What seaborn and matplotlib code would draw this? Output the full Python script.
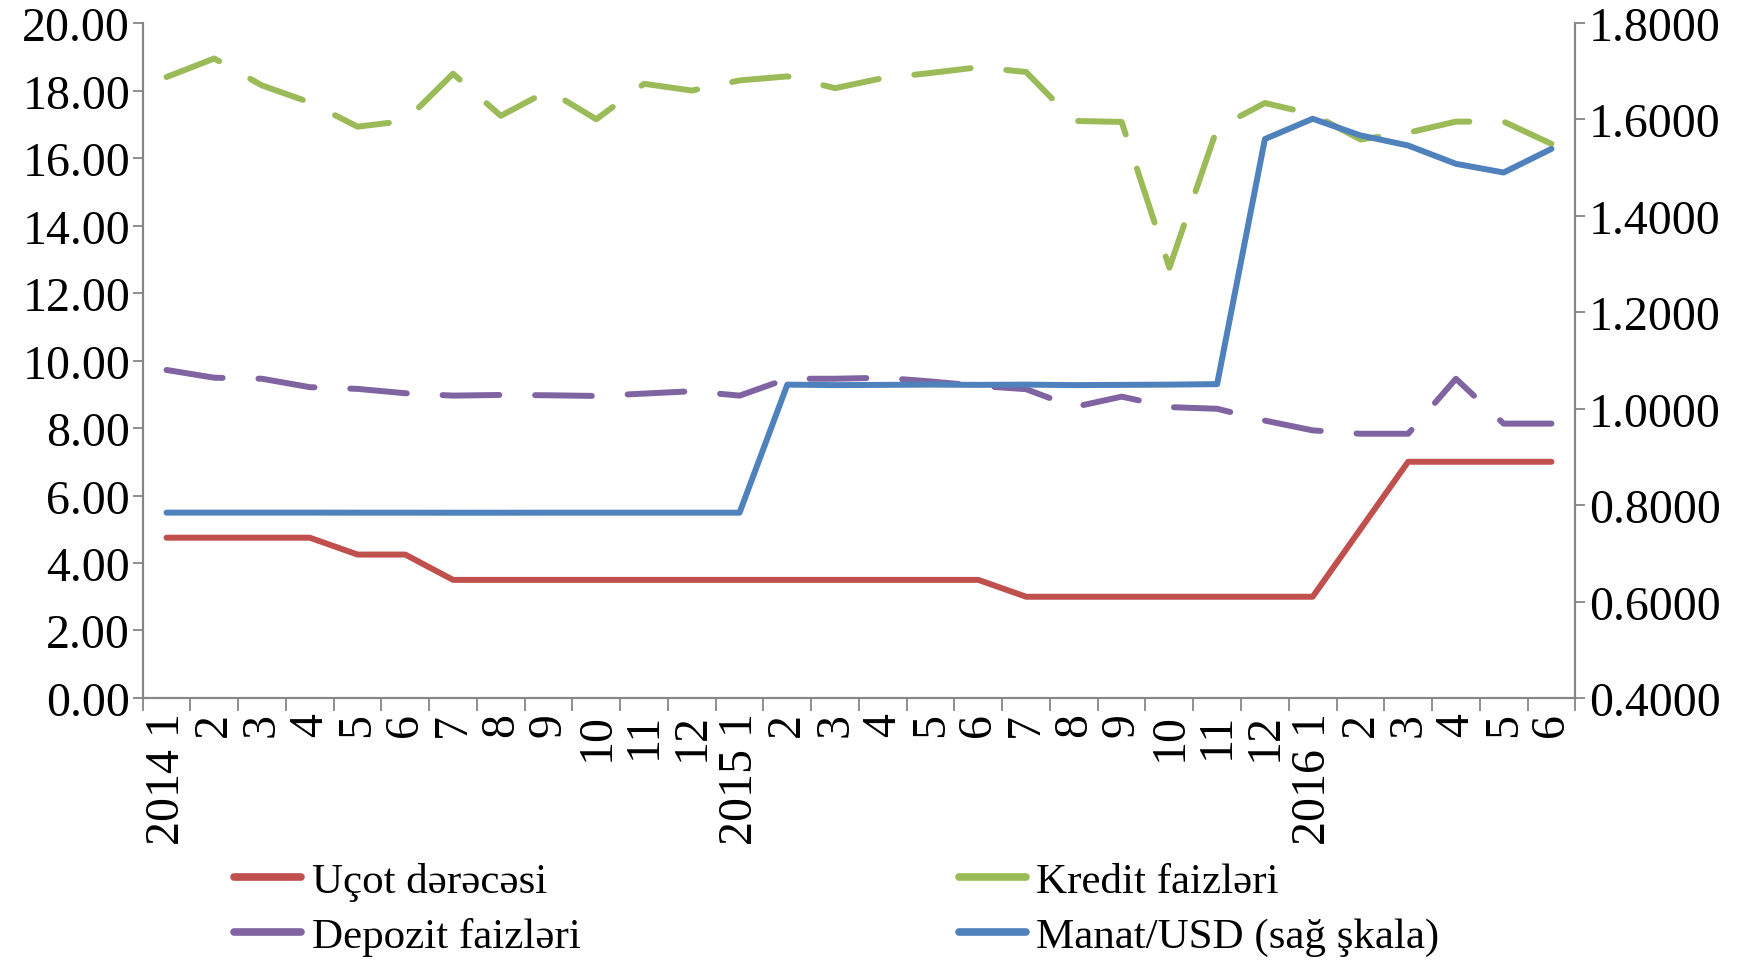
import numpy as np
import pandas as pd
import seaborn as sns
import matplotlib.pyplot as plt
from matplotlib.lines import Line2D

# months 2014 1 ... 2016 6
months = ["2014 1", "2", "3", "4", "5", "6", "7", "8", "9", "10", "11", "12",
          "2015 1", "2", "3", "4", "5", "6", "7", "8", "9", "10", "11", "12",
          "2016 1", "2", "3", "4", "5", "6"]

ucot = [4.75, 4.75, 4.75, 4.75, 4.25, 4.25, 3.50, 3.50, 3.50, 3.50, 3.50, 3.50,
        3.50, 3.50, 3.50, 3.50, 3.50, 3.50, 3.00, 3.00, 3.00, 3.00, 3.00, 3.00,
        3.00, 5.00, 7.00, 7.00, 7.00, 7.00]

kredit = [18.40, 18.95, 18.15, 17.65, 16.93, 17.10, 18.50, 17.25, 18.00, 17.15, 18.20, 18.00,
          18.30, 18.42, 18.07, 18.37, 18.52, 18.69, 18.55, 17.10, 17.07, 12.75, 16.88, 17.63,
          17.30, 16.55, 16.75, 17.08, 17.08, 16.42]

depozit = [9.72, 9.49, 9.46, 9.21, 9.16, 9.03, 8.96, 8.98, 8.97, 8.95, 9.02, 9.09,
           8.96, 9.46, 9.46, 9.49, 9.38, 9.25, 9.15, 8.62, 8.93, 8.62, 8.57, 8.22,
           7.93, 7.83, 7.83, 9.46, 8.13, 8.13]

manat = [0.7845, 0.7845, 0.7845, 0.7845, 0.7844, 0.7844, 0.7843, 0.7843, 0.7844, 0.7844, 0.7844, 0.7844,
         0.7844, 1.0500, 1.0490, 1.0495, 1.0500, 1.0495, 1.0500, 1.0490, 1.0495, 1.0500, 1.0510, 1.5594,
         1.6015, 1.5670, 1.5460, 1.5080, 1.4900, 1.5390]

names = ["Uçot dərəcəsi", "Kredit faizləri", "Depozit faizləri", "Manat/USD (sağ şkala)"]
colors = ["#C0504D", "#9BBB59", "#8064A2", "#4F81BD"]
gray = "#868686"

df = pd.DataFrame({"pos": np.arange(len(months)), "ucot": ucot, "kredit": kredit,
                   "depozit": depozit, "manat": manat})

sns.set_style("ticks")
plt.rcParams['font.family'] = ['Liberation Serif', 'DejaVu Serif']
plt.rcParams['text.color'] = 'black'
plt.rcParams['xtick.labelcolor'] = 'black'
plt.rcParams['ytick.labelcolor'] = 'black'
fs = 34.5      # tick labels
lfs = 31       # legend

fig = plt.figure(figsize=(17.48, 9.62), dpi=100)
ax = fig.add_axes([0.0816, 0.2734, 0.9012 - 0.0816, 0.975 - 0.2734])
ax2 = ax.twinx()

lw = 4.3
dash = (0, (9.5, 6))
sns.lineplot(data=df, x="pos", y="ucot", ax=ax, color=colors[0], lw=lw)
sns.lineplot(data=df, x="pos", y="kredit", ax=ax, color=colors[1], lw=lw,
             linestyle=dash, dash_capstyle="round")
sns.lineplot(data=df, x="pos", y="depozit", ax=ax, color=colors[2], lw=lw,
             linestyle=dash, dash_capstyle="round")
sns.lineplot(data=df, x="pos", y="manat", ax=ax2, color=colors[3], lw=lw)

ax.set_xlim(-0.5, len(months) - 0.5)
ax.set_ylim(0, 20)
ax2.set_ylim(0.4, 1.8)
ax.set_xlabel("")
ax.set_ylabel("")
ax2.set_ylabel("")

yt = np.arange(0, 21, 2)
ax.set_yticks(yt)
ax.set_yticklabels([f"{v:.2f}" for v in yt], fontsize=fs)
yt2 = np.arange(0.4, 1.81, 0.2)
ax2.set_yticks(yt2)
ax2.set_yticklabels([f"{v:.4f}" for v in yt2], fontsize=fs)

ax.set_xticks(np.arange(len(months)))
ax.set_xticklabels(months, rotation=90, fontsize=fs)
ax.set_xticks(np.arange(-0.5, len(months)), minor=True)
ax.tick_params(axis="x", which="major", length=0, pad=10, labelcolor="black")
ax.tick_params(axis="x", which="minor", length=9.5, width=1.3, color=gray)
ax.tick_params(axis="y", length=7, width=1.3, color=gray, pad=2, labelcolor="black")
ax2.tick_params(axis="y", length=7, width=1.3, color=gray, pad=3, labelcolor="black")

for a in (ax, ax2):
    a.spines["top"].set_visible(False)
    for s in ("left", "right", "bottom"):
        a.spines[s].set_color(gray)
        a.spines[s].set_linewidth(1.5)

handles = [Line2D([], [], color=c, lw=5.5, solid_capstyle="round") for c in colors]
leg_kw = dict(loc="center left", frameon=False, fontsize=lfs, handlelength=1.55,
              handletextpad=0.25, labelspacing=0.38, borderpad=0, borderaxespad=0,
              labelcolor="black")
fig.legend([handles[0], handles[2]], [names[0], names[2]],
           bbox_to_anchor=(0.134, 0.054), **leg_kw)
fig.legend([handles[1], handles[3]], [names[1], names[3]],
           bbox_to_anchor=(0.5486, 0.054), **leg_kw)

fig.savefig("out.png", dpi=100)
